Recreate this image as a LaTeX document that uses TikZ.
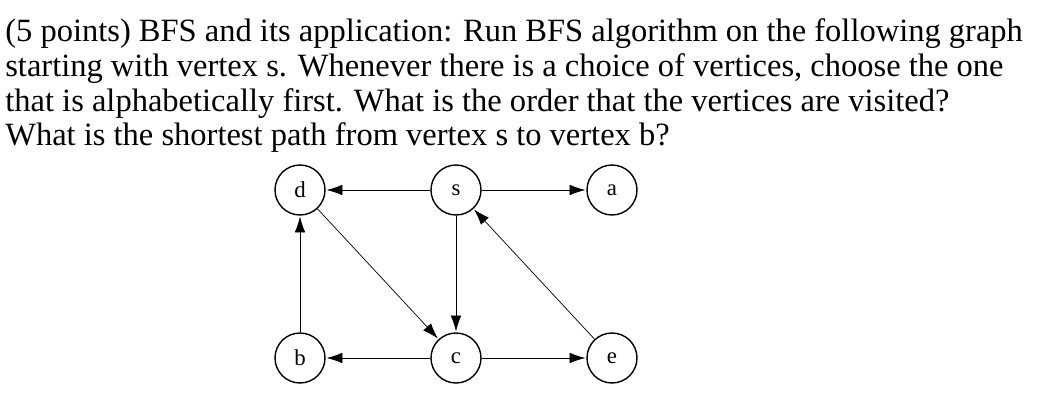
\documentclass[tikz,border=0pt]{standalone}
\usepackage{fontspec}
\setmainfont{Liberation Serif}
\usetikzlibrary{arrows.meta}
\begin{document}
\begin{tikzpicture}
		[x=0.02cm,y=-0.02cm,
		vertex/.style={circle,draw,thick,minimum size=1cm,inner sep=0pt,font=\fontsize{13}{15}\selectfont},
		edge/.style={draw,-{Latex[length=9pt,width=6pt]},shorten >=0.5pt},
		line/.style={anchor=base west,inner sep=0pt,font=\fontsize{18.5}{21}\selectfont}]
		\useasboundingbox (0,0) rectangle (1042,412);
		\node[line,name=t1] at (5,42) {(5 points) BFS and its application: Run BFS algorithm on the following graph};
		\node[line,name=t2] at (5,77) {starting with vertex s. Whenever there is a choice of vertices, choose the one};
		\node[line,name=t3] at (5,112) {that is alphabetically first. What is the order that the vertices are visited?};
		\node[line,name=t4] at (5,146) {What is the shortest path from vertex s to vertex b?};
		% graph
		\node[vertex,name=d] at (300,190) {d};
		\node[vertex,name=s] at (456,190) {s};
		\node[vertex,name=a] at (612,190) {a};
		\node[vertex,name=b] at (300,358) {b};
		\node[vertex,name=c] at (456,358) {c};
		\node[vertex,name=e] at (612,358) {e};
		\draw[edge] (s) -- (d);
		\draw[edge] (s) -- (a);
		\draw[edge] (s) -- (c);
		\draw[edge] (d) -- (c);
		\draw[edge] (b) -- (d);
		\draw[edge] (c) -- (b);
		\draw[edge] (c) -- (e);
		\draw[edge] (e) -- (s);
	\end{tikzpicture}
\end{document}
